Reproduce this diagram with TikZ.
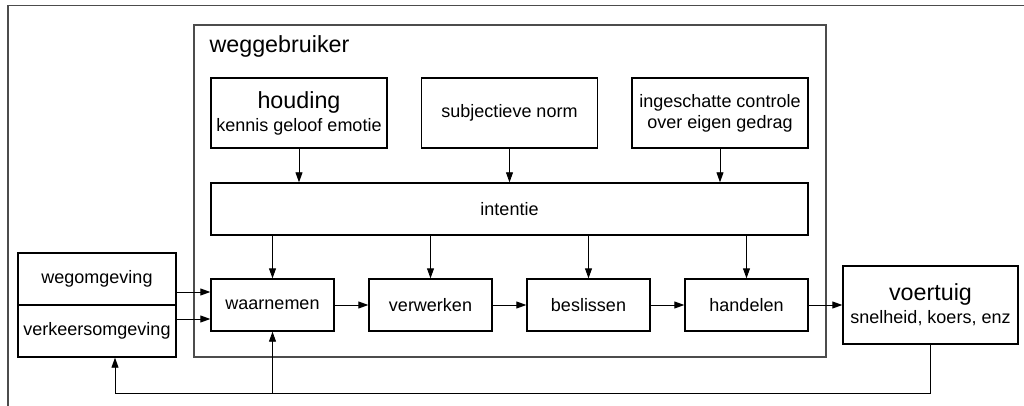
\documentclass[tikz,border=0pt]{standalone}
\usepackage{fontspec}
\setmainfont{Liberation Sans}
\usetikzlibrary{positioning,arrows.meta}

\begin{document}
\begin{tikzpicture}[x=1pt,y=-1pt,node distance=158pt,on grid,
    blok/.style={draw,line width=1.4pt,minimum width=123pt,minimum height=52pt,
      inner sep=0pt,align=center,font=\fontsize{18}{21}\selectfont},
    groot/.style={blok,minimum width=176pt,minimum height=70pt},
    pijl/.style={-{Triangle[length=10pt,width=7pt]},line width=0.9pt},
    kader/.style={draw=black!70,line width=1.3pt}]
    \useasboundingbox (0,0) rectangle (1024,406);
    \clip (0,0) rectangle (1024,406);
    \draw[kader] (8,5.5) rectangle (1040,420);
    % weggebruiker
    \node[kader,minimum width=632pt,minimum height=332pt,inner sep=0pt] (weggebruiker) at (510,191) {};
    \node[anchor=north west,inner sep=0pt,font=\fontsize{23.3}{26}\selectfont]
      (wg_label) at ([xshift=16pt,yshift=-11pt]weggebruiker.north west) {weggebruiker};
    \node[groot] (houding) at (299,113)
      {{\fontsize{23.3}{26}\selectfont houding}\\[2pt]kennis geloof emotie};
    \node[groot] (norm)   [right=210.5pt of houding] {subjectieve norm};
    \node[groot] (controle) [right=210.5pt of norm] {ingeschatte controle\\over eigen gedrag};
    \node[blok,minimum width=597pt] (intentie) at (509.5,209) {intentie};
    \node[blok] (waarnemen) at (272.5,305)        {waarnemen};
    \node[blok] (verwerken) [right=of waarnemen]  {verwerken};
    \node[blok] (beslissen) [right=of verwerken]  {beslissen};
    \node[blok] (handelen)  [right=of beslissen]  {handelen};
    % omgeving en voertuig
    \node[blok,minimum width=158pt] (wegomg) at (97,279) {wegomgeving};
    \node[blok,minimum width=158pt] (verkeersomg) [below=52pt of wegomg] {verkeersomgeving};
    \node[blok,minimum width=175pt,minimum height=78pt] (voertuig) at (930.5,305)
      {{\fontsize{23.3}{26}\selectfont voertuig}\\[2pt]snelheid, koers, enz};
    \coordinate (lus) at (115,393);
    \draw[pijl] (houding) -- (intentie.north -| houding);
    \draw[pijl] (norm) -- (intentie.north -| norm);
    \draw[pijl] (controle) -- (intentie.north -| controle);
    \foreach \n in {waarnemen,verwerken,beslissen,handelen}
      \draw[pijl] (intentie.south -| \n) -- (\n);
    \draw[pijl] ([yshift=-13pt]wegomg.east) -- ([yshift=-13pt]wegomg.east -| waarnemen.west);
    \draw[pijl] ([yshift=12pt]verkeersomg.east) -- ([yshift=12pt]verkeersomg.east -| waarnemen.west);
    \draw[pijl] (waarnemen) -- (verwerken);
    \draw[pijl] (verwerken) -- (beslissen);
    \draw[pijl] (beslissen) -- (handelen);
    \draw[pijl] (handelen) -- (voertuig);
    \draw[pijl] (voertuig) |- (lus) -- (lus |- verkeersomg.south);
    \draw[pijl] (lus -| waarnemen) -- (waarnemen);
\end{tikzpicture}
\end{document}
